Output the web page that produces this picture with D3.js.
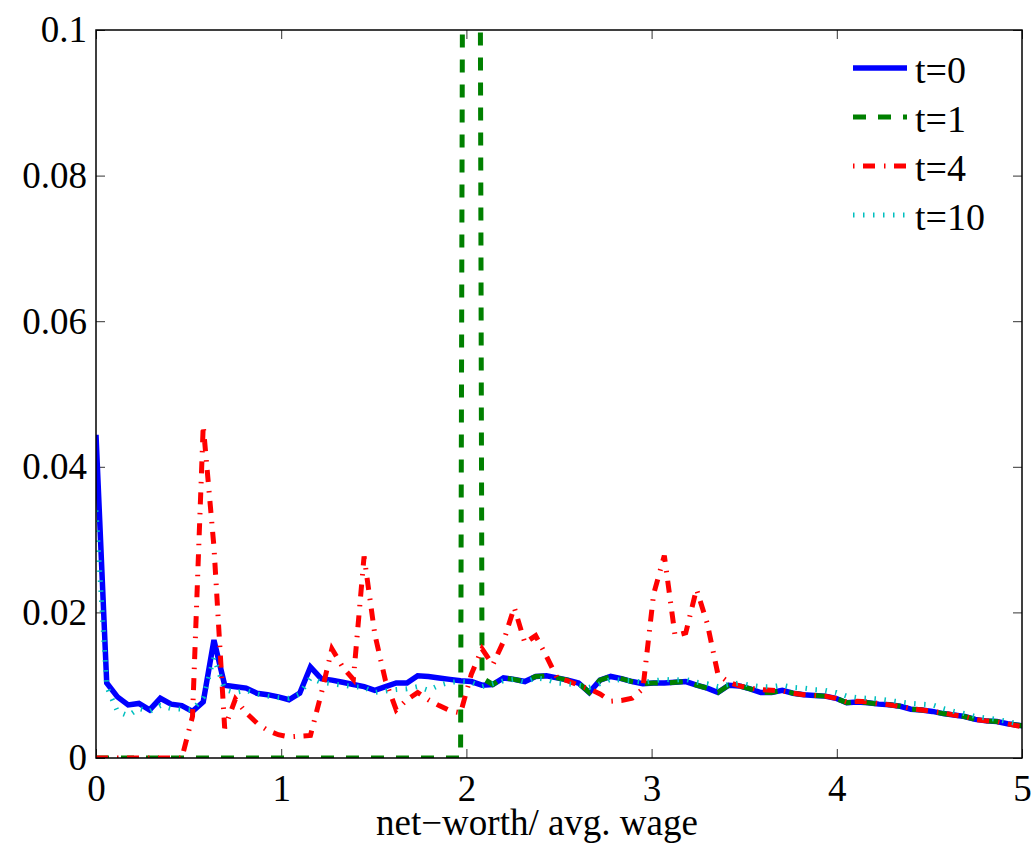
<!DOCTYPE html>
<html>
<head>
<meta charset="utf-8">
<script src="https://cdn.jsdelivr.net/npm/d3@7"></script>
<style>
  body { margin: 0; background: #fff; }
  svg text { font-family: "Liberation Serif", "Times New Roman", serif; }
</style>
</head>
<body>
<div id="chart"></div>
<script>
// grid spacing of the wealth grid (net-worth / avg. wage)
var step = 0.0579;

// density at t=0
var t0 = [0.0444, 0.0103, 0.0084, 0.0073, 0.0075, 0.0066, 0.0082, 0.0074, 0.0072, 0.0064,
  0.0077, 0.0162, 0.0100, 0.0098, 0.0096, 0.0089, 0.0087, 0.0084, 0.0080, 0.0089,
  0.0125, 0.0109, 0.0107, 0.0104, 0.0101, 0.0098, 0.0093, 0.0098, 0.0103, 0.0103,
  0.0113, 0.0112, 0.0110, 0.0108, 0.0106, 0.0105, 0.0100, 0.0101, 0.0110, 0.0108,
  0.0105, 0.0112, 0.0113, 0.0110, 0.0107, 0.0103, 0.0090, 0.0107, 0.0112, 0.0109,
  0.0105, 0.0102, 0.0103, 0.0103, 0.0104, 0.0105, 0.0100, 0.0096, 0.0090, 0.0100,
  0.0099, 0.0095, 0.0090, 0.0090, 0.0093, 0.0089, 0.0087, 0.0086, 0.0085, 0.0082,
  0.0076, 0.0077, 0.0076, 0.0074, 0.0073, 0.0071, 0.0067, 0.0066, 0.0064, 0.0061,
  0.0059, 0.0057, 0.0053, 0.0051, 0.0050, 0.0047, 0.0045, 0.0043];

// density at t=1 (everyone at the same point, spike goes off the chart)
var t1 = [0, 0, 0, 0, 0, 0, 0, 0, 0, 0,
  0, 0, 0, 0, 0, 0, 0, 0, 0, 0,
  0, 0, 0, 0, 0, 0, 0, 0, 0, 0,
  0, 0, 0, 0, 0, 0.6, 0.0110, 0.0101, 0.0110, 0.0108,
  0.0105, 0.0112, 0.0113, 0.0110, 0.0107, 0.0103, 0.0090, 0.0107, 0.0112, 0.0109,
  0.0105, 0.0102, 0.0103, 0.0103, 0.0104, 0.0105, 0.0100, 0.0096, 0.0090, 0.0100,
  0.0099, 0.0095, 0.0090, 0.0090, 0.0093, 0.0089, 0.0087, 0.0086, 0.0085, 0.0082,
  0.0076, 0.0077, 0.0076, 0.0074, 0.0073, 0.0071, 0.0067, 0.0066, 0.0064, 0.0061,
  0.0059, 0.0057, 0.0053, 0.0051, 0.0050, 0.0047, 0.0045, 0.0043];

// density at t=4
var t4 = [0, 0, 0, 0, 0, 0, 0, 0, 0, 0.0057,
  0.0457, 0.0290, 0.0041, 0.0081, 0.0062, 0.0048, 0.0038, 0.0032, 0.0029, 0.0030,
  0.0031, 0.0088, 0.0150, 0.0125, 0.0108, 0.0277, 0.0170, 0.0106, 0.0066, 0.0080,
  0.0090, 0.0080, 0.0072, 0.0065, 0.0062, 0.0115, 0.0150, 0.0128, 0.0160, 0.0207,
  0.0158, 0.0168, 0.0140, 0.0110, 0.0106, 0.0100, 0.0095, 0.0088, 0.0078, 0.0079,
  0.0082, 0.0095, 0.0225, 0.0278, 0.0168, 0.0172, 0.0232, 0.0185, 0.0115, 0.0104,
  0.0099, 0.0096, 0.0094, 0.0093, 0.0092, 0.0089, 0.0087, 0.0086, 0.0085, 0.0082,
  0.0077, 0.0078, 0.0077, 0.0075, 0.0073, 0.0071, 0.0068, 0.0066, 0.0064, 0.0062,
  0.0059, 0.0057, 0.0053, 0.0051, 0.0050, 0.0047, 0.0044, 0.0042];

// density at t=10
var t10 = [0.0340, 0.0098, 0.0064, 0.0058, 0.0068, 0.0064, 0.0072, 0.0068, 0.0067, 0.0066,
  0.0083, 0.0138, 0.0094, 0.0090, 0.0093, 0.0088, 0.0085, 0.0083, 0.0082, 0.0088,
  0.0110, 0.0104, 0.0102, 0.0100, 0.0098, 0.0097, 0.0090, 0.0092, 0.0094, 0.0095,
  0.0098, 0.0093, 0.0100, 0.0104, 0.0105, 0.0104, 0.0098, 0.0102, 0.0106, 0.0108,
  0.0104, 0.0110, 0.0108, 0.0103, 0.0102, 0.0100, 0.0097, 0.0102, 0.0108, 0.0107,
  0.0106, 0.0104, 0.0106, 0.0108, 0.0107, 0.0108, 0.0104, 0.0102, 0.0098, 0.0101,
  0.0103, 0.0100, 0.0098, 0.0098, 0.0100, 0.0097, 0.0096, 0.0094, 0.0093, 0.0090,
  0.0085, 0.0083, 0.0082, 0.0081, 0.0079, 0.0077, 0.0075, 0.0074, 0.0073, 0.0068,
  0.0064, 0.0061, 0.0057, 0.0055, 0.0053, 0.0050, 0.0047, 0.0045];

var xTicks = [0, 1, 2, 3, 4, 5];
var yTicks = [0, 0.02, 0.04, 0.06, 0.08, 0.1];
var yTickLabels = ["0", "0.02", "0.04", "0.06", "0.08", "0.1"];
var seriesNames = ["t=0", "t=1", "t=4", "t=10"];

var serif = "'Liberation Serif', 'Times New Roman', serif";

var margin = {top: 30, right: 14, bottom: 98, left: 96},
    width = 1036 - margin.left - margin.right,
    height = 856 - margin.top - margin.bottom;

var svg = d3.select("#chart")
  .append("svg")
    .attr("width", width + margin.left + margin.right)
    .attr("height", height + margin.top + margin.bottom)
    .attr("font-family", serif)
  .append("g")
    .attr("transform", "translate(" + margin.left + "," + margin.top + ")");

var x = d3.scaleLinear().domain([0, 5]).range([0, width]);
var y = d3.scaleLinear().domain([0, 0.1]).range([height, 0]);

svg.append("clipPath").attr("id", "clip")
  .append("rect").attr("width", width).attr("height", height);

// axes with inward ticks on all four sides
function styleAxis(g) {
  g.attr("font-family", serif).attr("font-size", 37);
  g.select(".domain").remove();
  g.selectAll(".tick line").attr("stroke", "#333").attr("stroke-width", 1);
  g.selectAll("text").attr("fill", "#000");
}
svg.append("g")
  .attr("transform", "translate(0," + height + ")")
  .call(d3.axisBottom(x).tickValues(xTicks).tickFormat(d3.format("d")).tickSize(-9).tickPadding(17))
  .call(styleAxis);
svg.append("g")
  .call(d3.axisTop(x).tickValues(xTicks).tickFormat("").tickSize(-9))
  .call(styleAxis);
svg.append("g")
  .call(d3.axisLeft(y).tickValues(yTicks).tickFormat(function(d, i) { return yTickLabels[i]; }).tickSize(-9).tickPadding(9))
  .call(styleAxis);
svg.append("g")
  .attr("transform", "translate(" + width + ",0)")
  .call(d3.axisRight(y).tickValues(yTicks).tickFormat("").tickSize(-9))
  .call(styleAxis);

// series
var styles = [
  {data: t0, color: "#0000ff", width: 5.5, dash: null},
  {data: t1, color: "#008000", width: 5, dash: "13,12"},
  {data: t4, color: "#ff0000", width: 5, dash: "12,9,1.5,8.5"},
  {data: t10, color: "#00bfbf", width: 5, dash: "1.5,8.5"}
];

var line = d3.line()
  .x(function(d, i) { return x(i * step); })
  .y(function(d) { return y(d); });

var plot = svg.append("g").attr("clip-path", "url(#clip)");
styles.forEach(function(s) {
  plot.append("path")
    .datum(s.data)
    .attr("fill", "none")
    .attr("stroke", s.color)
    .attr("stroke-width", s.width)
    .attr("stroke-dasharray", s.dash)
    .attr("d", line);
});

// frame
svg.append("rect")
  .attr("width", width).attr("height", height)
  .attr("fill", "none").attr("stroke", "#000").attr("stroke-width", 1.5);

// x label
svg.append("text")
  .attr("x", 441).attr("y", 805)
  .attr("text-anchor", "middle")
  .attr("font-size", 37)
  .text("net\u2212worth/ avg. wage");

// legend
var legend = svg.append("g").attr("transform", "translate(757,38)");
styles.forEach(function(s, i) {
  var row = legend.append("g").attr("transform", "translate(0," + (i * 49) + ")");
  row.append("line")
    .attr("x1", 0).attr("x2", 54)
    .attr("stroke", s.color)
    .attr("stroke-width", s.width)
    .attr("stroke-dasharray", s.dash)
    .attr("stroke-dashoffset", i == 2 ? 21 : 0);
  row.append("text")
    .attr("x", 62).attr("y", 15)
    .attr("font-size", 38)
    .text(seriesNames[i]);
});
</script>
</body>
</html>
